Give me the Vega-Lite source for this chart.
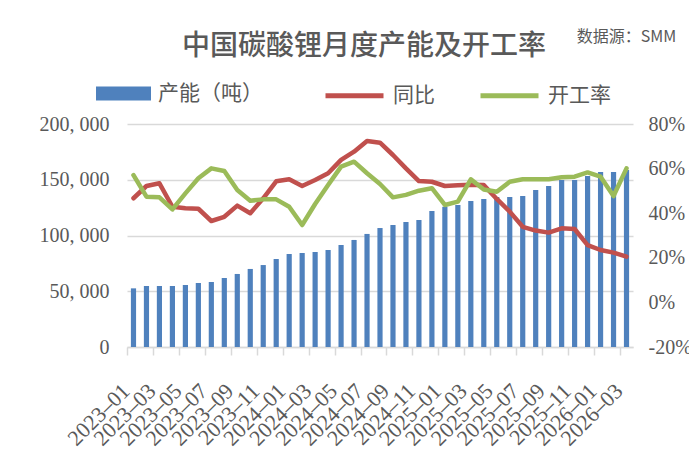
{
  "$schema": "https://vega.github.io/schema/vega-lite/v6.json",
  "width": 506,
  "height": 223,
  "autosize": {"type": "none"},
  "padding": {"left": 127, "top": 124, "right": 56, "bottom": 112},
  "background": "white",
  "title": {
    "text": "中国碳酸锂月度产能及开工率",
    "font": "Noto Sans CJK SC",
    "fontSize": 28,
    "fontWeight": 500,
    "color": "#595959",
    "anchor": "middle",
    "frame": "group",
    "baseline": "middle",
    "dx": -16,
    "dy": 47,
    "offset": 0
  },
  "data": {
    "values": [
      {"month": "2023-01", "cap": 52600, "yoy": 46.7, "util": 57.1},
      {"month": "2023-02", "cap": 54700, "yoy": 52.2, "util": 47.4},
      {"month": "2023-03", "cap": 54700, "yoy": 53.4, "util": 47.1},
      {"month": "2023-04", "cap": 54700, "yoy": 42.9, "util": 41.7},
      {"month": "2023-05", "cap": 55600, "yoy": 42.2, "util": 48.9},
      {"month": "2023-06", "cap": 57400, "yoy": 42.0, "util": 55.7},
      {"month": "2023-07", "cap": 58300, "yoy": 36.5, "util": 60.1},
      {"month": "2023-08", "cap": 61900, "yoy": 38.4, "util": 58.9},
      {"month": "2023-09", "cap": 65500, "yoy": 43.4, "util": 50.4},
      {"month": "2023-10", "cap": 70000, "yoy": 40.0, "util": 45.6},
      {"month": "2023-11", "cap": 73500, "yoy": 46.7, "util": 46.2},
      {"month": "2023-12", "cap": 78900, "yoy": 54.3, "util": 46.2},
      {"month": "2024-01", "cap": 83400, "yoy": 55.2, "util": 42.9},
      {"month": "2024-02", "cap": 84300, "yoy": 52.2, "util": 34.7},
      {"month": "2024-03", "cap": 85200, "yoy": 54.9, "util": 44.1},
      {"month": "2024-04", "cap": 87000, "yoy": 57.9, "util": 52.6},
      {"month": "2024-05", "cap": 91500, "yoy": 63.9, "util": 60.9},
      {"month": "2024-06", "cap": 96000, "yoy": 67.6, "util": 63.1},
      {"month": "2024-07", "cap": 101400, "yoy": 72.4, "util": 57.9},
      {"month": "2024-08", "cap": 106700, "yoy": 71.6, "util": 53.1},
      {"month": "2024-09", "cap": 109400, "yoy": 66.1, "util": 47.1},
      {"month": "2024-10", "cap": 112100, "yoy": 60.1, "util": 48.2},
      {"month": "2024-11", "cap": 113900, "yoy": 54.4, "util": 50.1},
      {"month": "2024-12", "cap": 122000, "yoy": 54.1, "util": 51.2},
      {"month": "2025-01", "cap": 125800, "yoy": 52.2, "util": 43.7},
      {"month": "2025-02", "cap": 127400, "yoy": 52.5, "util": 45.2},
      {"month": "2025-03", "cap": 130900, "yoy": 52.8, "util": 55.2},
      {"month": "2025-04", "cap": 132700, "yoy": 52.6, "util": 50.6},
      {"month": "2025-05", "cap": 134500, "yoy": 46.4, "util": 49.6},
      {"month": "2025-06", "cap": 134500, "yoy": 40.7, "util": 54.1},
      {"month": "2025-07", "cap": 135400, "yoy": 33.9, "util": 55.2},
      {"month": "2025-08", "cap": 140800, "yoy": 32.2, "util": 55.2},
      {"month": "2025-09", "cap": 144400, "yoy": 31.3, "util": 55.2},
      {"month": "2025-10", "cap": 149800, "yoy": 33.2, "util": 56.1},
      {"month": "2025-11", "cap": 149800, "yoy": 32.9, "util": 56.4},
      {"month": "2025-12", "cap": 153400, "yoy": 25.7, "util": 58.3},
      {"month": "2026-01", "cap": 157000, "yoy": 23.5, "util": 56.4},
      {"month": "2026-02", "cap": 157000, "yoy": 22.3, "util": 47.7},
      {"month": "2026-03", "cap": 158700, "yoy": 20.5, "util": 60.1}
    ]
  },
  "encoding": {
    "x": {
      "field": "month",
      "type": "ordinal",
      "sort": null,
      "scale": {"paddingInner": 0.6, "paddingOuter": 0.3},
      "axis": {
        "title": null,
        "values": ["2023-01","2023-03","2023-05","2023-07","2023-09","2023-11","2024-01","2024-03","2024-05","2024-07","2024-09","2024-11","2025-01","2025-03","2025-05","2025-07","2025-09","2025-11","2026-01","2026-03"],
        "bandPosition": 0,
        "tickOffset": -3.9,
        "labelOffset": -4,
        "labelExpr": "replace(datum.label, '-', '–')",
        "labelAngle": -45,
        "labelAlign": "right",
        "labelBaseline": "middle",
        "labelPadding": 32,
        "labelFont": "Liberation Serif",
        "labelFontSize": 22,
        "labelColor": "#595959",
        "labelOverlap": false,
        "domainColor": "#d9d9d9",
        "domainWidth": 1.5,
        "tickColor": "#d9d9d9",
        "tickWidth": 1.5,
        "tickSize": 8,
        "grid": false
      }
    }
  },
  "layer": [
    {
      "mark": {"type": "bar"},
      "encoding": {
        "y": {
          "field": "cap",
          "type": "quantitative",
          "scale": {"domain": [0, 200000], "nice": false},
          "axis": {
            "title": null,
            "values": [0, 50000, 100000, 150000, 200000],
            "labelExpr": "replace(format(datum.value, ','), ',', ', ')",
            "labelFont": "Liberation Serif",
            "labelFontSize": 20,
            "labelColor": "#595959",
            "labelPadding": 18,
            "ticks": false,
            "domain": false,
            "grid": true,
            "gridColor": "#d9d9d9",
            "gridWidth": 1.5
          }
        },
        "fill": {
          "datum": "产能（吨）",
          "type": "nominal",
          "scale": {"domain": ["产能（吨）"], "range": ["#4f81bd"]},
          "legend": {
            "orient": "none",
            "legendX": -31,
            "legendY": -58,
            "direction": "horizontal",
            "title": null,
            "padding": 0,
            "symbolType": "M-1,-0.255H1V0.255H-1Z",
            "symbolSize": 3025,
            "symbolStrokeWidth": 0,
            "labelOffset": 7,
            "labelFont": "Noto Sans CJK SC",
            "labelFontSize": 21,
            "labelColor": "#595959"
          }
        }
      }
    },
    {
      "layer": [
        {
          "mark": {"type": "line", "strokeWidth": 4.5, "strokeJoin": "round", "strokeCap": "round"},
          "encoding": {
            "y": {
              "field": "yoy",
              "type": "quantitative",
              "scale": {"domain": [-20, 80], "nice": false},
              "axis": {
                "orient": "right",
                "title": "数据源：SMM",
                "titleAngle": 0,
                "titleX": -7,
                "titleY": -88,
                "titleAlign": "center",
                "titleBaseline": "middle",
                "titleFont": "Noto Sans CJK SC",
                "titleFontSize": 16,
                "titleFontWeight": "normal",
                "titleColor": "#595959",
                "values": [-20, 0, 20, 40, 60, 80],
                "labelExpr": "datum.value + '%'",
                "labelFont": "Liberation Serif",
                "labelFontSize": 20,
                "labelColor": "#595959",
                "labelPadding": 15,
                "ticks": false,
                "domain": false,
                "grid": false
              }
            },
            "stroke": {
              "datum": "同比",
              "type": "nominal",
              "scale": {"domain": ["同比", "开工率"], "range": ["#c0504d", "#9bbb59"]},
              "legend": {
                "orient": "none",
                "legendX": 196,
                "legendY": -60,
                "direction": "horizontal",
                "title": null,
                "padding": 0,
                "symbolType": "stroke",
                "symbolSize": 3364,
                "symbolStrokeWidth": 5,
                "columnPadding": 35,
                "labelOffset": 7,
                "labelFont": "Noto Sans CJK SC",
                "labelFontSize": 21,
                "labelColor": "#595959"
              }
            }
          }
        },
        {
          "mark": {"type": "line", "strokeWidth": 4.5, "strokeJoin": "round", "strokeCap": "round"},
          "encoding": {
            "y": {"field": "util", "type": "quantitative"},
            "stroke": {"datum": "开工率", "type": "nominal"}
          }
        }
      ]
    }
  ],
  "resolve": {"scale": {"y": "independent"}},
  "config": {
    "view": {"stroke": null}
  }
}
